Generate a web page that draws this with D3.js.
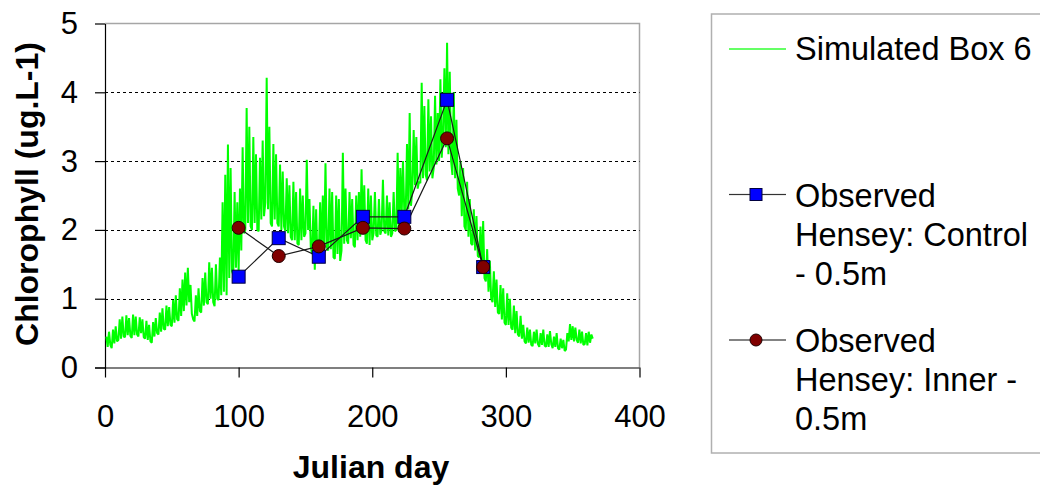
<!DOCTYPE html>
<html>
<head>
<meta charset="utf-8">
<script src="https://cdn.jsdelivr.net/npm/d3@7"></script>
<style>
  html, body { margin: 0; padding: 0; background: #fff; }
  svg { display: block; font-family: "Liberation Sans", Arial, sans-serif; }
</style>
</head>
<body>
<div id="contents"></div>
<script>
// simulated chlorophyll, Box 6, one value per Julian day starting at day 1
var simStartDay = 1;
var simChl = [
    0.45,0.30,0.52,0.33,0.28,0.55,0.35,0.60,0.38,0.40,
    0.70,0.42,0.74,0.45,0.44,0.76,0.47,0.72,0.46,0.43,
    0.77,0.47,0.74,0.48,0.45,0.73,0.50,0.70,0.44,0.42,
    0.68,0.40,0.62,0.38,0.36,0.66,0.45,0.72,0.50,0.48,
    0.80,0.52,0.86,0.56,0.55,0.90,0.60,0.88,0.62,0.60,
    0.98,0.65,1.05,0.70,0.68,1.15,0.75,1.28,0.82,1.38,
    0.90,1.45,0.95,1.20,0.78,0.70,0.67,1.05,0.75,1.15,
    0.82,0.80,1.30,0.90,1.38,0.95,0.92,1.53,1.00,1.45,
    0.95,0.89,1.50,1.00,0.98,1.60,1.05,2.40,1.10,2.80,
    1.05,3.24,1.30,2.90,1.40,1.35,2.55,1.45,2.40,1.40,
    2.60,1.70,3.20,1.95,2.00,3.77,2.10,3.50,2.05,2.00,
    3.35,2.10,3.10,2.00,1.98,3.05,2.15,3.30,2.20,2.40,
    4.21,2.30,3.50,2.10,2.05,3.25,2.15,3.10,2.10,2.05,
    2.95,2.00,2.85,2.05,1.98,2.75,1.95,2.65,1.90,1.85,
    2.70,1.85,2.55,1.80,1.78,2.60,1.85,2.50,1.90,1.95,
    3.02,2.00,2.45,1.75,1.65,2.35,1.42,2.30,1.55,1.60,
    2.40,1.65,2.50,1.70,2.97,1.75,1.70,2.60,1.72,2.55,
    1.60,1.58,2.50,1.65,2.45,1.55,1.70,3.12,1.80,2.60,
    1.85,1.80,2.55,1.88,2.45,1.78,1.75,2.50,1.85,2.55,
    1.90,2.88,1.95,2.65,1.85,1.80,2.60,1.78,2.50,1.85,
    1.95,2.55,1.92,1.90,2.45,1.93,2.00,2.73,1.98,1.95,
    2.50,1.92,2.40,1.90,1.95,2.55,1.98,2.00,3.12,2.05,
    2.90,2.20,3.00,2.25,2.20,3.25,2.30,3.70,2.35,2.60,
    3.45,2.65,3.35,2.60,2.70,2.68,4.14,2.75,3.80,2.80,
    2.72,3.90,2.85,3.65,2.75,2.90,3.95,2.95,3.70,3.00,
    4.19,3.05,3.40,4.35,3.20,4.72,3.10,4.30,3.00,2.80,
    4.00,2.75,3.60,2.60,2.50,3.00,2.20,2.90,2.05,2.00,
    2.70,1.90,2.45,1.80,1.78,2.30,1.70,2.20,1.62,1.60,
    2.05,1.40,2.13,1.30,1.25,1.72,1.10,1.55,1.00,0.95,
    1.40,0.88,1.28,0.80,0.78,1.20,0.70,1.15,0.65,0.62,
    1.08,0.62,1.00,0.58,0.55,0.90,0.50,0.82,0.48,0.45,
    0.75,0.42,0.62,0.38,0.35,0.58,0.36,0.55,0.33,0.31,
    0.52,0.35,0.55,0.34,0.30,0.50,0.33,0.55,0.32,0.30,
    0.48,0.30,0.53,0.34,0.28,0.45,0.30,0.50,0.28,0.26,
    0.42,0.28,0.40,0.24,0.26,0.50,0.38,0.63,0.40,0.60,
    0.38,0.58,0.40,0.36,0.55,0.35,0.52,0.33,0.34,0.50,
    0.32,0.52,0.36,0.48,0.42
];

// observed samples
var obsDays    = [100, 130, 160, 193, 224, 256, 283];
var controlChl = [1.32, 1.88, 1.61, 2.19, 2.19, 3.89, 1.46];
var innerChl   = [2.03, 1.62, 1.76, 2.03, 2.02, 3.33, 1.46];

var xTicks = [0, 100, 200, 300, 400];
var yTicks = [0, 1, 2, 3, 4, 5];
var gridValues = [1, 2, 3, 4];

var legendLabels = [
    ['Simulated Box 6'],
    ['Observed', 'Hensey: Control', '- 0.5m'],
    ['Observed', 'Hensey: Inner -', '0.5m']
];

(function(){
    'use strict';
    var WIDTH  = 1040;
    var HEIGHT = 486;
    var LEFT   = 105;
    var RIGHT  = 639.5;
    var TOP    = 23.5;
    var BOTTOM = 367.5;
    var TICK   = 10;
    var TICK_FONT = 31;
    var TITLE_FONT = 32;
    var LEGEND_FONT = 32.5;
    var GREEN = '#00ff00';

    var svg = d3.select('#contents')
        .append('svg')
        .attr('width', WIDTH)
        .attr('height', HEIGHT);

    var x = d3.scaleLinear().domain([0, 400]).range([LEFT, RIGHT]);
    var y = d3.scaleLinear().domain([0, 5]).range([BOTTOM, TOP]);

    // plot frame (top and right in grey)
    svg.append('path')
        .attr('d', 'M' + LEFT + ',' + TOP + 'H' + RIGHT + 'V' + BOTTOM)
        .attr('fill', 'none')
        .attr('stroke', '#a6a6a6')
        .attr('stroke-width', 1.5);

    // dashed gridlines
    svg.append('g')
        .selectAll('line')
        .data(gridValues)
        .enter()
        .append('line')
        .attr('x1', LEFT)
        .attr('x2', RIGHT)
        .attr('y1', function(d){ return Math.round(y(d)) + 0.5; })
        .attr('y2', function(d){ return Math.round(y(d)) + 0.5; })
        .attr('stroke', '#000')
        .attr('stroke-width', 1)
        .attr('stroke-dasharray', '3,3');

    // axes
    var yAxis = d3.axisLeft(y).tickValues(yTicks).tickFormat(d3.format('d'))
        .tickSize(TICK).tickSizeOuter(0).tickPadding(17);
    var xAxis = d3.axisBottom(x).tickValues(xTicks).tickFormat(d3.format('d'))
        .tickSize(TICK).tickSizeOuter(0).tickPadding(27);

    var gy = svg.append('g')
        .attr('transform', 'translate(' + LEFT + ',0)')
        .call(yAxis);
    var gx = svg.append('g')
        .attr('transform', 'translate(0,' + BOTTOM + ')')
        .call(xAxis);

    [gx, gy].forEach(function(g){
        g.select('.domain').attr('stroke', '#000').attr('stroke-width', 1.2);
        g.selectAll('.tick line').attr('stroke', '#000').attr('stroke-width', 1.2);
        g.selectAll('.tick text')
            .attr('fill', '#000')
            .attr('font-size', TICK_FONT)
            .attr('font-family', '"Liberation Sans", Arial, sans-serif');
    });
    gx.selectAll('.tick text').attr('dy', '0.71em');
    gx.select('.domain').attr('d', 'M' + (LEFT - TICK) + ',0.5H' + RIGHT);

    // axis titles
    svg.append('text')
        .attr('x', 371)
        .attr('y', 478)
        .attr('text-anchor', 'middle')
        .attr('font-size', TITLE_FONT)
        .attr('font-weight', 'bold')
        .text('Julian day');

    svg.append('text')
        .attr('transform', 'translate(38,194) rotate(-90)')
        .attr('text-anchor', 'middle')
        .attr('font-size', TITLE_FONT)
        .attr('font-weight', 'bold')
        .text('Chlorophyll (ug.L-1)');

    // simulated series
    var simLine = d3.line()
        .x(function(d, i){ return x(simStartDay + i); })
        .y(function(d){ return y(d); });

    svg.append('path')
        .datum(simChl)
        .attr('d', simLine)
        .attr('fill', 'none')
        .attr('stroke', GREEN)
        .attr('stroke-width', 2)
        .attr('stroke-linejoin', 'bevel');

    // observed series
    var obsLine = d3.line()
        .x(function(d, i){ return x(obsDays[i]); })
        .y(function(d){ return y(d); });

    [controlChl, innerChl].forEach(function(series){
        svg.append('path')
            .datum(series)
            .attr('d', obsLine)
            .attr('fill', 'none')
            .attr('stroke', '#1a1a1a')
            .attr('stroke-width', 1.2);
    });

    var SQ = 13;
    svg.append('g')
        .selectAll('rect')
        .data(controlChl)
        .enter()
        .append('rect')
        .attr('x', function(d, i){ return x(obsDays[i]) - SQ / 2; })
        .attr('y', function(d){ return y(d) - SQ / 2; })
        .attr('width', SQ)
        .attr('height', SQ)
        .attr('fill', '#0000ff')
        .attr('stroke', '#000040')
        .attr('stroke-width', 1);

    svg.append('g')
        .selectAll('circle')
        .data(innerChl)
        .enter()
        .append('circle')
        .attr('cx', function(d, i){ return x(obsDays[i]); })
        .attr('cy', function(d){ return y(d); })
        .attr('r', 6.5)
        .attr('fill', '#800000')
        .attr('stroke', '#200000')
        .attr('stroke-width', 1);

    // legend
    var legend = svg.append('g');
    legend.append('rect')
        .attr('x', 711.5)
        .attr('y', 14)
        .attr('width', 400)
        .attr('height', 439)
        .attr('fill', '#fff')
        .attr('stroke', '#b0b0b0')
        .attr('stroke-width', 1.5);

    var legendY = [49, 194.5, 340];
    var textBase = [60, 207, 352];
    var LINE_H = 39;

    legendLabels.forEach(function(lines, k){
        legend.append('rect')
            .attr('x', 729)
            .attr('y', legendY[k] - 0.6)
            .attr('width', 57)
            .attr('height', 1.2)
            .attr('fill', k === 0 ? GREEN : '#333');

        var t = legend.append('text')
            .attr('font-size', LEGEND_FONT)
            .attr('fill', '#000');
        lines.forEach(function(s, j){
            t.append('tspan')
                .attr('x', 795)
                .attr('y', textBase[k] + j * LINE_H)
                .text(s);
        });
    });

    legend.append('rect')
        .attr('x', 756 - 6)
        .attr('y', legendY[1] - 6)
        .attr('width', 12)
        .attr('height', 12)
        .attr('fill', '#0000ff')
        .attr('stroke', '#000040')
        .attr('stroke-width', 1);

    legend.append('circle')
        .attr('cx', 756)
        .attr('cy', legendY[2])
        .attr('r', 6)
        .attr('fill', '#800000')
        .attr('stroke', '#200000')
        .attr('stroke-width', 1);
})();
</script>
</body>
</html>
